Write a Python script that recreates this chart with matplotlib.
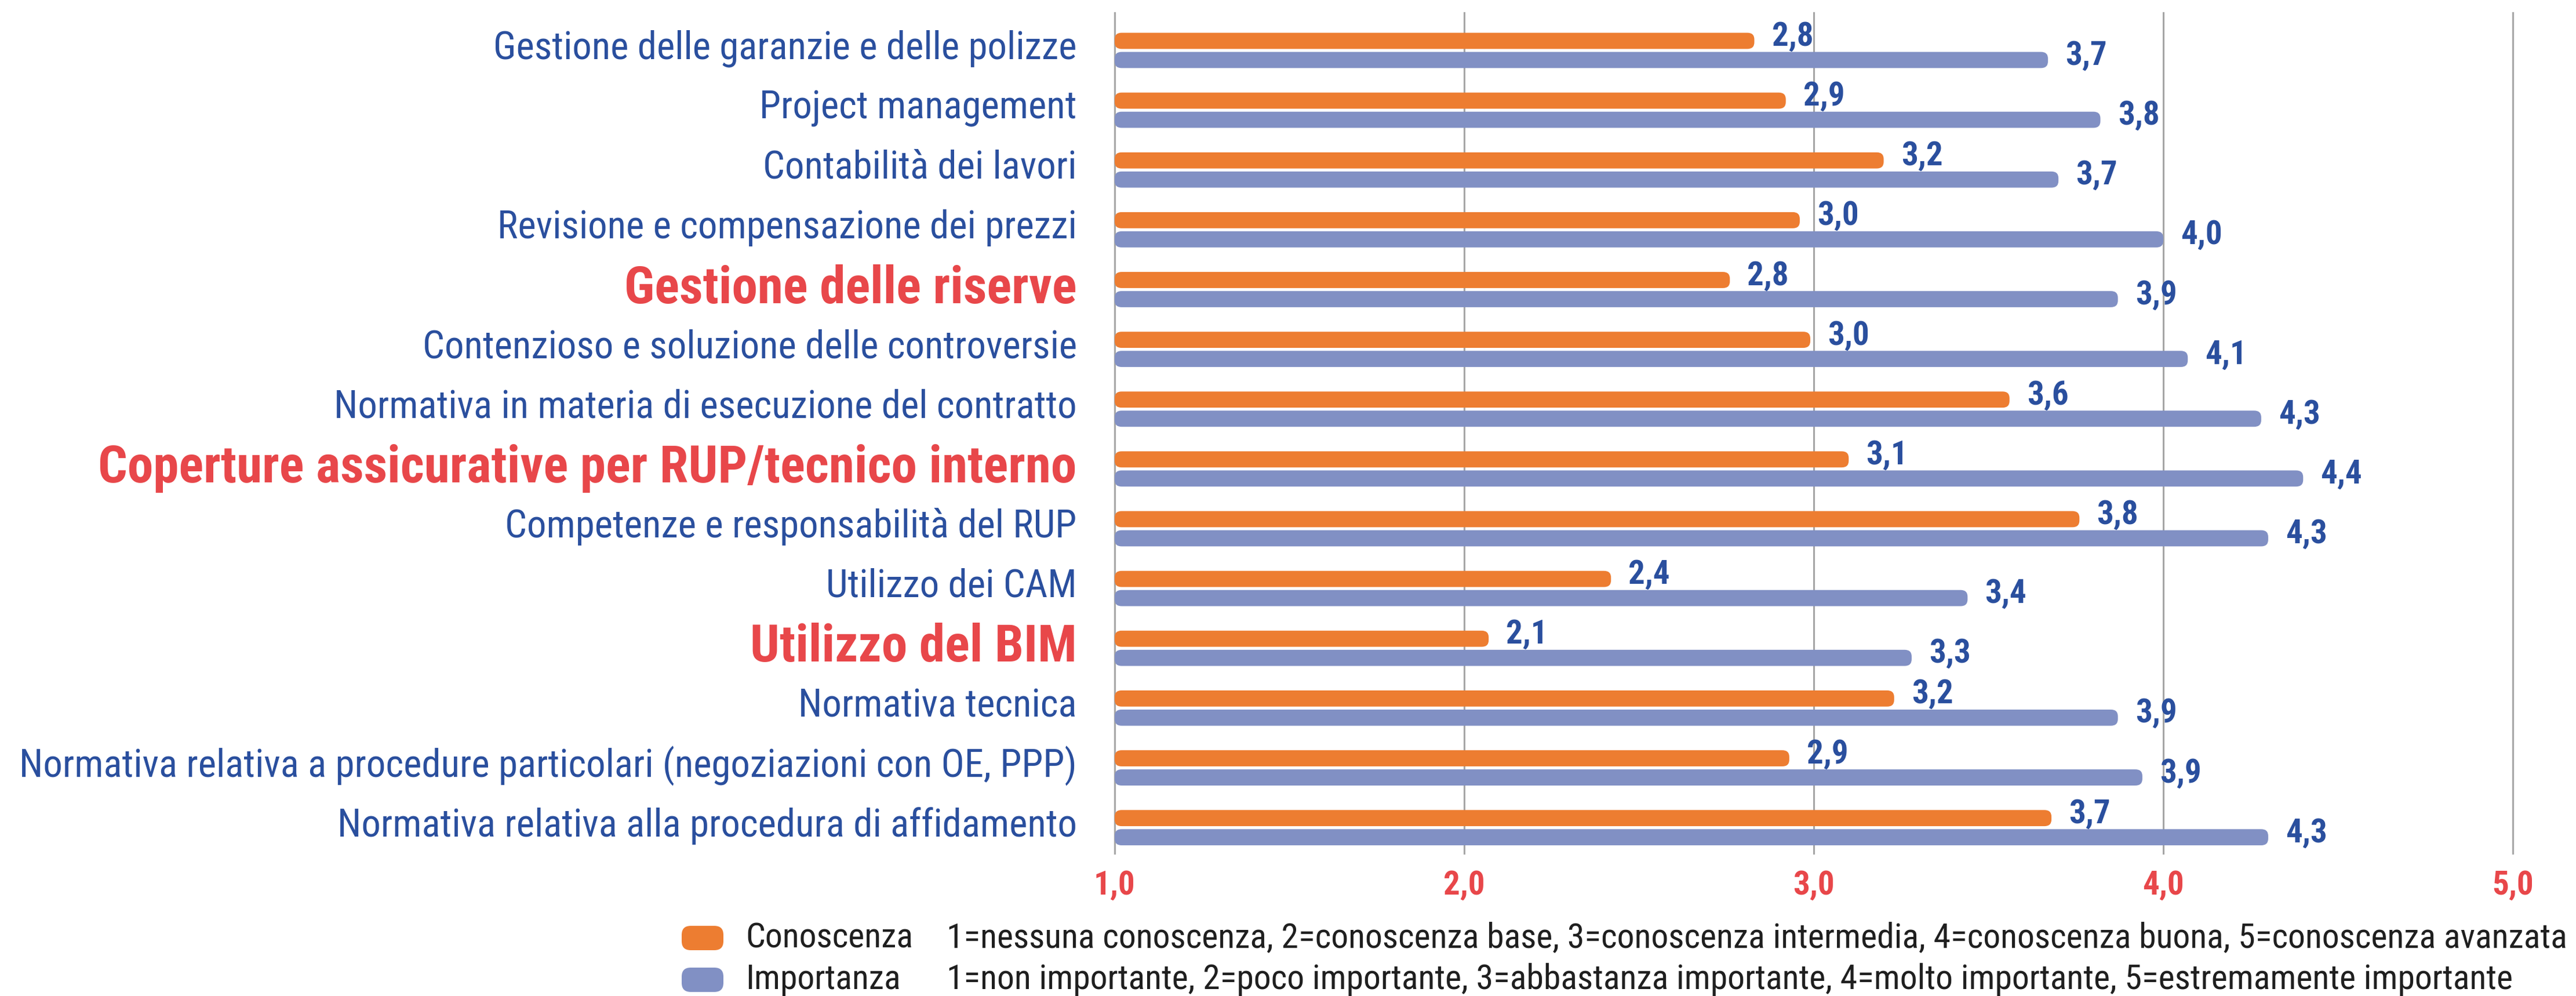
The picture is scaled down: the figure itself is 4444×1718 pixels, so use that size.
import matplotlib
matplotlib.use("Agg")
import matplotlib.pyplot as plt
from matplotlib.patches import FancyBboxPatch
import numpy as np

plt.rcParams['font.family'] = ['Liberation Sans Narrow', 'Roboto Condensed', 'DejaVu Sans Condensed',
                               'Open Sans Condensed', 'Lato', 'DejaVu Sans']

# dati
categorie = [
    "Gestione delle garanzie e delle polizze",
    "Project management",
    "Contabilità dei lavori",
    "Revisione e compensazione dei prezzi",
    "Gestione delle riserve",
    "Contenzioso e soluzione delle controversie",
    "Normativa in materia di esecuzione del contratto",
    "Coperture assicurative per RUP/tecnico interno",
    "Competenze e responsabilità del RUP",
    "Utilizzo dei CAM",
    "Utilizzo del BIM",
    "Normativa tecnica",
    "Normativa relativa a procedure particolari (negoziazioni con OE, PPP)",
    "Normativa relativa alla procedura di affidamento",
]
evidenziate = ["Gestione delle riserve",
               "Coperture assicurative per RUP/tecnico interno",
               "Utilizzo del BIM"]
conoscenza = [2.83, 2.92, 3.20, 2.96, 2.76, 2.99, 3.56, 3.10, 3.76, 2.42, 2.07, 3.23, 2.93, 3.68]
importanza = [3.67, 3.82, 3.70, 4.00, 3.87, 4.07, 4.28, 4.40, 4.30, 3.44, 3.28, 3.87, 3.94, 4.30]
tick_x = [1.0, 2.0, 3.0, 4.0, 5.0]
legenda = [("Conoscenza", "1=nessuna conoscenza, 2=conoscenza base, 3=conoscenza intermedia, 4=conoscenza buona, 5=conoscenza avanzata"),
           ("Importanza", "1=non importante, 2=poco importante, 3=abbastanza importante, 4=molto importante, 5=estremamente importante")]

ARANCIO = "#ED7D31"
LILLA = "#8190C4"
BLU = "#2A4F9E"
ROSSO = "#E8474A"

fig = plt.figure(figsize=(44.44, 17.18), dpi=100)
ax = fig.add_axes([0.4327, 0.1432, 0.9755 - 0.4327, 0.9872 - 0.1432])

y = np.arange(len(categorie))
h = 0.27
off = 0.16

def barre_arrotondate(vals, ypos, col):
    bars = ax.barh(ypos, np.array(vals) - 1.0, left=1.0, height=h, color=col)
    for r in bars:
        x0, y0 = r.get_x(), r.get_y()
        w, hh = r.get_width(), r.get_height()
        r.remove()
        p = FancyBboxPatch((x0, y0), w, hh,
                           boxstyle="round,pad=0,rounding_size=0.02",
                           mutation_aspect=5.6, facecolor=col, edgecolor='none', zorder=3)
        ax.add_patch(p)

barre_arrotondate(conoscenza, y - off, ARANCIO)
barre_arrotondate(importanza, y + off, LILLA)

valori_txt = []
for i in range(len(categorie)):
    for v, yy in ((conoscenza[i], y[i] - off), (importanza[i], y[i] + off)):
        t = ax.text(v + 0.05, yy - 0.07, ("%.1f" % v).replace('.', ','),
                    ha='left', va='center', fontsize=41, fontweight='bold', color=BLU)
        valori_txt.append(t)

ax.set_xlim(1.0, 5.0)
ax.set_ylim(13.43, -0.63)
ax.set_xticks(tick_x)
ax.set_xticklabels([("%.1f" % t).replace('.', ',') for t in tick_x],
                   fontsize=41, fontweight='bold', color=ROSSO)
ax.set_yticks(y - 0.1)
ax.set_yticklabels(categorie)
for lab in ax.get_yticklabels():
    if lab.get_text() in evidenziate:
        lab.set_color(ROSSO)
        lab.set_fontweight('bold')
        lab.set_fontsize(61)
    else:
        lab.set_color(BLU)
        lab.set_fontsize(45)
ax.tick_params(axis='y', length=0, pad=47)
ax.tick_params(axis='x', length=0, pad=20)
for s in ax.spines.values():
    s.set_visible(False)
ax.grid(axis='x', color='#A6A6A6', linewidth=2.2, zorder=0)
ax.set_axisbelow(True)
for gl in ax.get_xgridlines():
    gl.set_clip_on(False)

# legenda fatta a mano
W, H = 4444.0, 1718.0
leg_nomi, leg_descr = [], []
for k, (nome, descr) in enumerate(legenda):
    yc = 1618 + k * 72
    col = ARANCIO if k == 0 else LILLA
    fig.patches.append(FancyBboxPatch(((1176) / W, 1 - (yc + 21) / H), 72 / W, 42 / H,
                                      boxstyle="round,pad=0,rounding_size=0.0035",
                                      mutation_aspect=W / H,
                                      transform=fig.transFigure, facecolor=col,
                                      edgecolor='none', figure=fig))
    leg_nomi.append(fig.text(1286 / W, 1 - yc / H, nome, fontsize=41, color='#1F1F1F', va='center', ha='left'))
    leg_descr.append(fig.text(1633 / W, 1 - yc / H, descr, fontsize=41, color='#1F1F1F', va='center', ha='left'))

# adatta le dimensioni dei testi alla larghezza del riferimento
fig.canvas.draw()
rend = fig.canvas.get_renderer()
labs = ax.get_yticklabels()
k_norm = 1822.0 / labs[12].get_window_extent(rend).width
k_ross = 1690.0 / labs[7].get_window_extent(rend).width
for lab in labs:
    if lab.get_text() in evidenziate:
        lab.set_fontsize(lab.get_fontsize() * k_ross)
    else:
        lab.set_fontsize(lab.get_fontsize() * k_norm)
k_leg = 2800.0 / leg_descr[0].get_window_extent(rend).width
for t in leg_nomi + leg_descr:
    t.set_fontsize(t.get_fontsize() * k_leg)
k_val = min(1.0, k_norm * 1.05)
for t in valori_txt:
    t.set_fontsize(t.get_fontsize() * k_val)
for t in ax.get_xticklabels():
    t.set_fontsize(t.get_fontsize() * k_val)

fig.savefig("out.png", dpi=100)
